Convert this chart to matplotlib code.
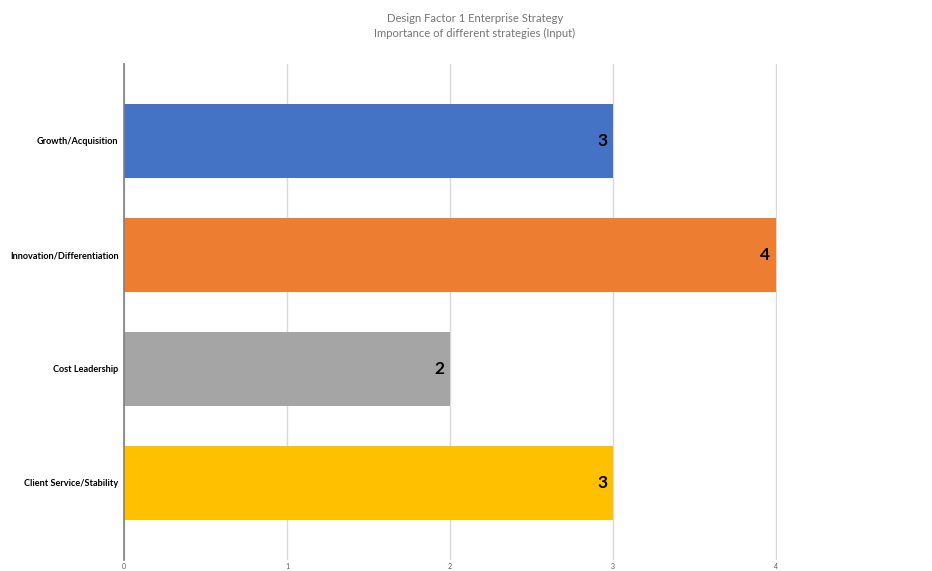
import matplotlib
matplotlib.use("Agg")
import matplotlib.pyplot as plt

categories = ["Growth/Acquisition", "Innovation/Differentiation", "Cost Leadership", "Client Service/Stability"]
values = [3, 4, 2, 3]
colors = ["#4472C4", "#ED7D31", "#A5A5A5", "#FFC000"]
xticks = [0, 1, 2, 3, 4]
title = "Design Factor 1 Enterprise Strategy\nImportance of different strategies (Input)"

FONT = ["Lato", "DejaVu Sans"]

W, H = 932, 571
fig = plt.figure(figsize=(W / 100, H / 100), dpi=100)
ax = fig.add_axes([124 / W, 1 - 560 / H, (777 - 124) / W, (560 - 64) / H])

pos = list(range(len(categories)))
ax.barh(pos, values, height=0.65, color=colors, zorder=3)
ax.set_ylim(3.68, -0.675)
ax.set_xlim(0, 4.006)
ax.set_xticks(xticks)
ax.set_xticklabels([str(t) for t in xticks], fontsize=5, color="#595959", family=FONT)
ax.tick_params(axis="x", length=0, pad=2.5)
ax.set_yticks(pos)
ax.set_yticklabels(categories, fontsize=6.6, fontweight="bold", family=FONT)
ax.tick_params(axis="y", length=0, pad=4)
ax.grid(axis="x", color="#D9D9D9", linewidth=1, zorder=0)
for s in ["top", "right", "bottom"]:
    ax.spines[s].set_visible(False)
ax.spines["left"].set_color("#7F7F7F")
ax.spines["left"].set_linewidth(1.2)
ax.spines["left"].set_zorder(4)

for p, v in zip(pos, values):
    ax.text(v - 0.035, p, str(v), ha="right", va="center", fontsize=12.5,
            fontweight="bold", family=FONT, color="black", zorder=5)

fig.text(475 / W, 1 - 26 / H, title, ha="center", va="center", fontsize=8.1,
         color="#757575", family=FONT, linespacing=1.35)

fig.savefig("out.png", dpi=100)
